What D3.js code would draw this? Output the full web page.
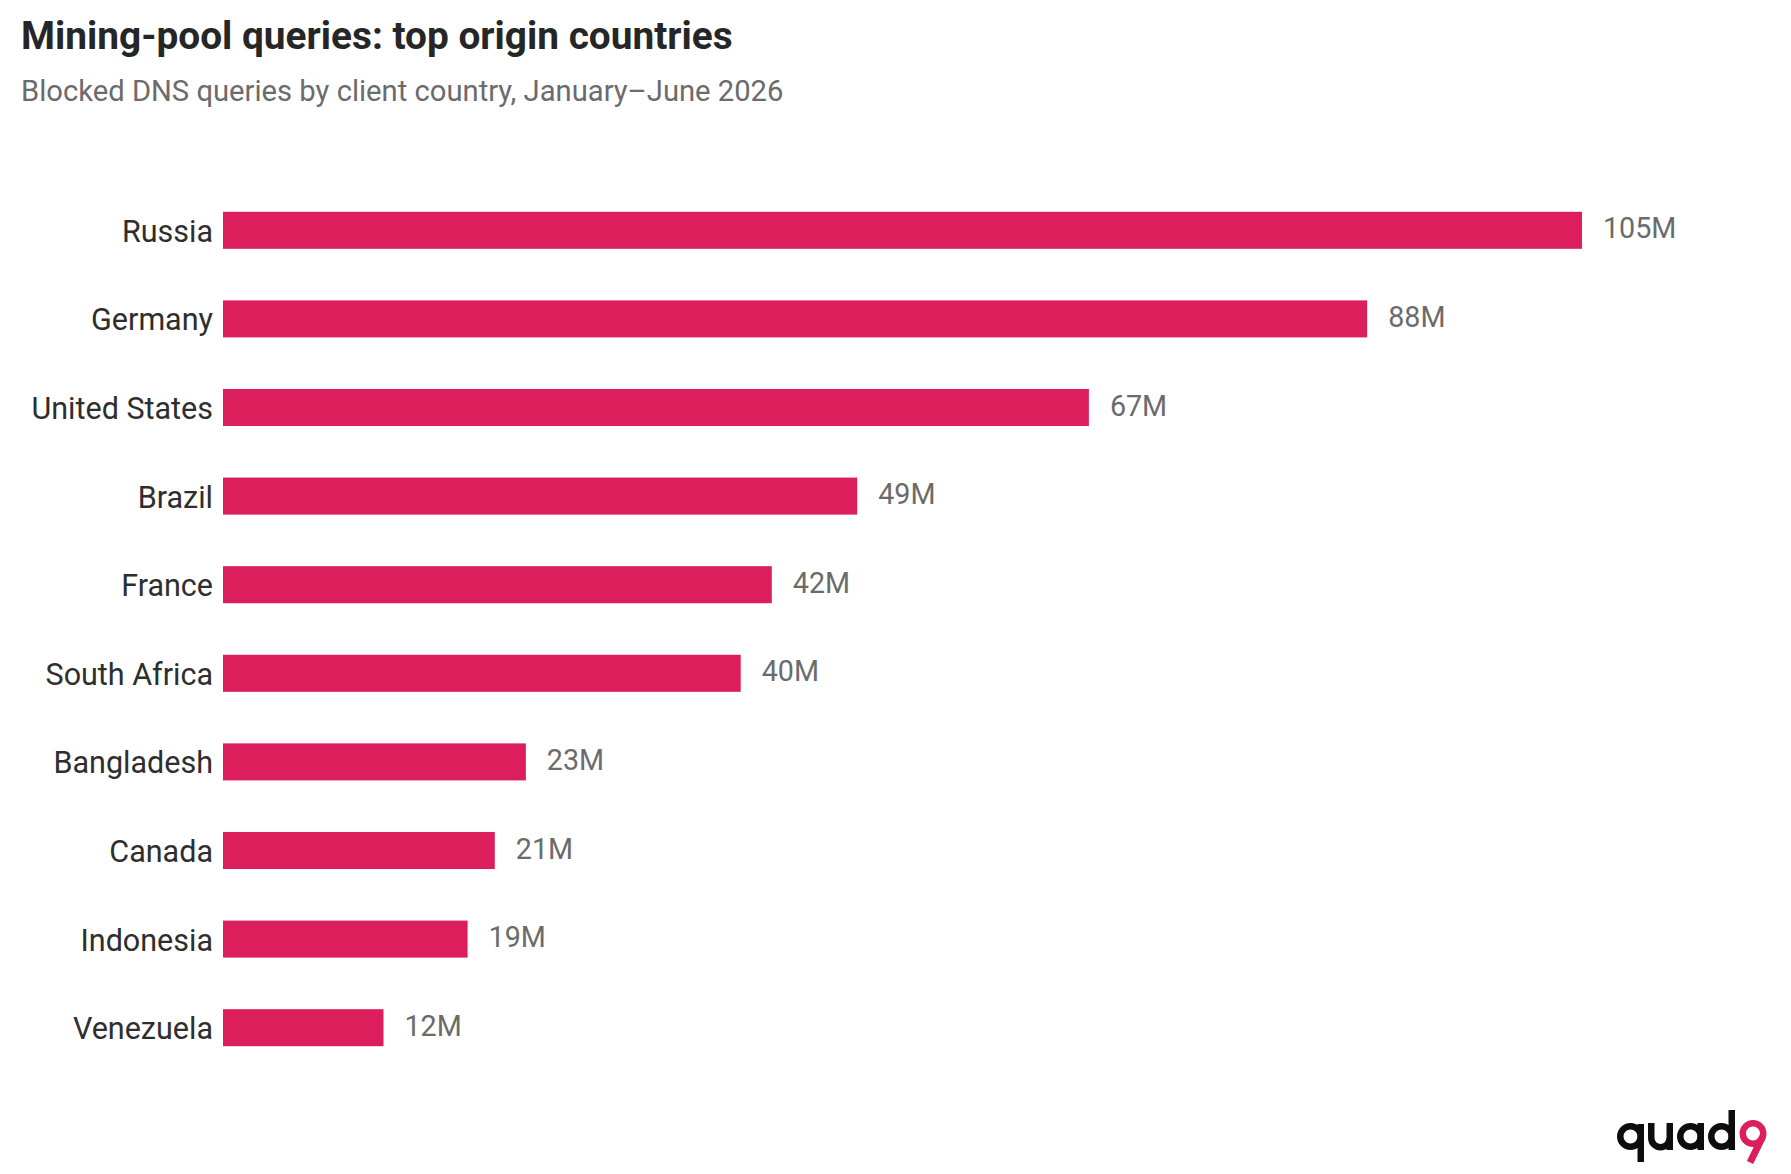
<!DOCTYPE html>
<html>
<head>
<meta charset="utf-8">
<script src="https://cdn.jsdelivr.net/npm/d3@7"></script>
<style>
  html, body { margin: 0; padding: 0; background: #fff; }
  svg { display: block; font-family: Roboto, sans-serif; }
</style>
</head>
<body>
<svg id="chart" width="1791" height="1174"></svg>
<script>
// top origin countries, Jan–Jun 2026 (millions of blocked queries)
const countries = ['Russia', 'Germany', 'United States', 'Brazil', 'France',
  'South Africa', 'Bangladesh', 'Canada', 'Indonesia', 'Venezuela'];
const queries = [105, 88.4, 66.9, 49.0, 42.4, 40.0, 23.4, 21.0, 18.9, 12.4];

const COLORS = {
  bar: '#dc1f5c',
  title: '#262626',
  sub: '#6b6b6b',
  label: '#2e2e2e',
  value: '#6b6b6b',
  ink: '#0d0d0d',
};

const rows = countries.map((c, i) => ({ country: c, value: queries[i] }));

const svg = d3.select('#chart');

// heading
svg.append('text')
  .attr('x', 21).attr('y', 49)
  .attr('font-size', 38.8).attr('font-weight', 700)
  .attr('fill', COLORS.title)
  .text('Mining-pool queries: top origin countries');

svg.append('text')
  .attr('x', 21).attr('y', 101)
  .attr('font-size', 29.2)
  .attr('fill', COLORS.sub)
  .text('Blocked DNS queries by client country, January–June 2026');

// scales
const x = d3.scaleLinear()
  .domain([0, d3.max(queries)])
  .range([223, 1582]);

const y = d3.scaleBand()
  .domain(countries)
  .range([186, 1072])
  .paddingInner(0.582)
  .paddingOuter(0.291);

const g = svg.append('g').attr('class', 'bars');

g.selectAll('rect')
  .data(rows)
  .join('rect')
  .attr('x', x(0))
  .attr('y', (d) => y(d.country))
  .attr('width', (d) => x(d.value) - x(0))
  .attr('height', y.bandwidth())
  .attr('fill', COLORS.bar);

// country names on the left
g.selectAll('text.country')
  .data(rows)
  .join('text')
  .attr('class', 'country')
  .attr('x', x(0) - 10)
  .attr('y', (d) => y(d.country) + y.bandwidth() / 2)
  .attr('dy', '0.38em')
  .attr('text-anchor', 'end')
  .attr('font-size', 30.5)
  .attr('fill', COLORS.label)
  .text((d) => d.country);

// value labels
const fmt = d3.format('.0f');
g.selectAll('text.value')
  .data(rows)
  .join('text')
  .attr('class', 'value')
  .attr('x', (d) => x(d.value) + 21)
  .attr('y', (d) => y(d.country) + y.bandwidth() / 2)
  .attr('dy', '0.28em')
  .attr('font-size', 28.7)
  .attr('fill', COLORS.value)
  .text((d) => fmt(d.value) + 'M');

// quad9 logo, drawn with strokes
const logo = svg.append('g')
  .attr('class', 'logo')
  .attr('fill', 'none')
  .attr('stroke-width', 6.5);

const cy = 1136.5, r = 10.25;
const ring = (cx, col) => logo.append('circle')
  .attr('cx', cx).attr('cy', cy).attr('r', r).attr('stroke', col);
const stem = (sx, y1, y2, col) => logo.append('line')
  .attr('x1', sx).attr('x2', sx).attr('y1', y1).attr('y2', y2).attr('stroke', col);

// q
ring(1630.5, COLORS.ink);
stem(1630.5 + r, 1124, 1162, COLORS.ink);
// u
logo.append('path')
  .attr('d', `M1651.25,1123 V1138 A9.25,9.25 0 0 0 1669.75,1138`)
  .attr('stroke', COLORS.ink);
stem(1669.75, 1123, 1150, COLORS.ink);
// a
ring(1690.5, COLORS.ink);
stem(1690.5 + r, 1123, 1150, COLORS.ink);
// d
ring(1721.5, COLORS.ink);
stem(1721.5 + r, 1110, 1150, COLORS.ink);
// 9
logo.append('circle')
  .attr('cx', 1753).attr('cy', 1133.5).attr('r', r)
  .attr('stroke', COLORS.bar);
logo.append('path')
  .attr('d', 'M1762.5,1137 L1750,1162.5')
  .attr('stroke', COLORS.bar)
  .attr('stroke-width', 7);
</script>
</body>
</html>
